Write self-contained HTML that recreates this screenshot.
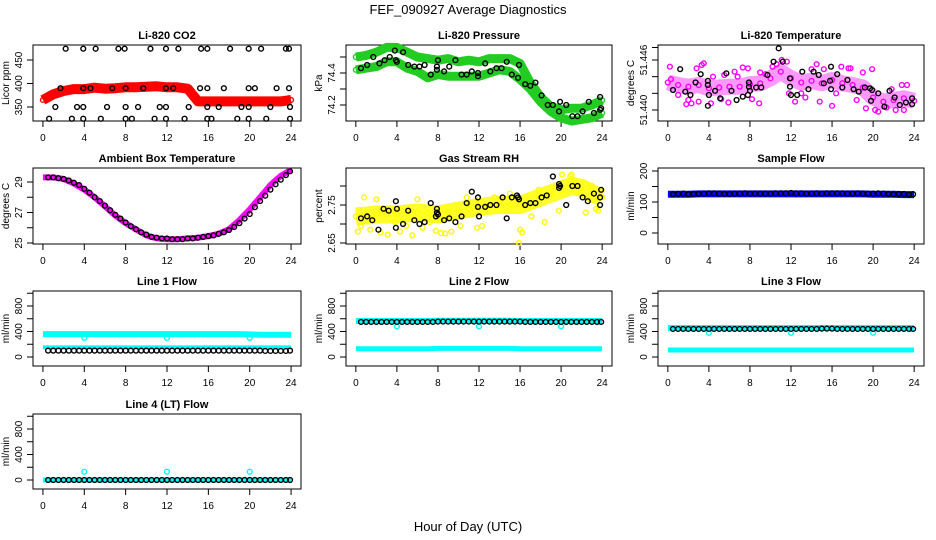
<!DOCTYPE html>
<html><head><meta charset="utf-8"><style>
html,body{margin:0;padding:0;background:#fff;}
svg{display:block;font-family:"Liberation Sans",sans-serif;}
</style></head><body>
<svg id="c" width="936" height="540" viewBox="0 0 936 540">
<text x="468" y="14" text-anchor="middle" font-size="13">FEF_090927  Average Diagnostics</text>
<text x="468" y="531" text-anchor="middle" font-size="13">Hour of Day (UTC)</text>
</svg>
<script>
// ---- data ----
const hours = [0,1,2,3,4,5,6,7,8,9,10,11,12,13,14,15,16,17,18,19,20,21,22,23,24];
const halfT = [0.5,1,1.5,2,2.5,3,3.5,4,4.5,5,5.5,6,6.5,7,7.5,8,8.5,9,9.5,10,10.5,11,11.5,12,12.5,13,13.5,14,14.5,15,15.5,16,16.5,17,17.5,18,18.5,19,19.5,20,20.5,21,21.5,22,22.5,23,23.5,23.9];
const xTicks = [0,4,8,12,16,20,24];

const co2Red = [365,377,384,388,388,391,389,390,392,392,393,394,392,392,389,362,362,362,362,362,362,362,362,362,365];
const co2BlackT = [2.2,3.9,5.1,7.3,7.9,10.4,11.9,13.1,15.3,15.9,18.1,19.9,21.1,23.5,23.8, 1.7,3.9,4.6,6.7,8,9.7,11.9,12.6,15.2,15.9,17.5,19.9,20.5,22.6,23.8, 1.2,3.3,3.9,6.2,8,9.2,11.3,11.9,14.1,15.9,17,19.2,19.9,22,23.9, 0.6,2.8,3.9,5.6,8,8.6,10.8,11.9,13.7,15.9,16.3,18.8,19.9,21.6,23.9];
const co2BlackV = [474,474,474,474,474,474,474,474,474,474,474,474,474,474,474, 390,390,390,390,390,390,390,390,390,390,390,390,390,390,390, 350,350,350,350,350,350,350,350,350,350,350,350,350,350,350, 325,325,325,325,325,325,325,325,325,325,325,325,325,325,325];

const presUpper = [74.50,74.51,74.53,74.56,74.56,74.53,74.50,74.49,74.48,74.49,74.47,74.48,74.47,74.49,74.49,74.49,74.46,74.34,74.25,74.19,74.17,74.18,74.18,74.20,74.23];
const presLower = [74.42,74.43,74.44,74.47,74.47,74.43,74.41,74.37,74.39,74.38,74.38,74.38,74.38,74.40,74.42,74.41,74.36,74.30,74.22,74.16,74.12,74.10,74.11,74.12,74.15];
const presBlackT = [0.5,1.1,1.7,2.3,2.8,3.3,3.9,4,3.8,4.6,5.1,5.7,6.2,6.7,7.3,7.9,7.9,8,8.6,9.1,9.7,10.3,10.8,11.3,11.9,11.9,12.6,13.1,13.7,14.2,14.7,15.2,15.8,15.9,16.5,17,17.5,18.1,18.7,19.2,19.8,19.9,20.5,21.1,21.6,22.1,22.7,23.2,23.8,23.8,23.9];
const presBlackV = [74.43,74.45,74.50,74.46,74.48,74.50,74.48,74.47,74.54,74.53,74.45,74.44,74.44,74.45,74.39,74.42,74.44,74.48,74.41,74.44,74.48,74.39,74.39,74.41,74.38,74.40,74.46,74.41,74.43,74.43,74.47,74.39,74.37,74.45,74.33,74.32,74.34,74.26,74.20,74.20,74.16,74.22,74.20,74.13,74.13,74.16,74.22,74.15,74.17,74.25,74.18];

const tempMag = [51.4433,51.4430,51.4428,51.4430,51.4426,51.4427,51.4428,51.4428,51.4431,51.4432,51.4438,51.4446,51.4438,51.4433,51.4435,51.4432,51.4436,51.4432,51.4430,51.4427,51.4415,51.4410,51.4412,51.4414,51.4411];
const tempMagOutT = [0.2,0.3,1.8,2.3,2.8,3.3,3.5,4.4,5.2,5.9,6.5,7.3,8.2,8.9,9.5,10.6,11.1,11.6,12.4,13.4,14.0,14.5,15.2,16.0,16.9,17.6,18.4,19.3,19.9,20.5,21.3,22.2,22.8,23.3,1.0,2.0,3.0,4.2,5.5,6.8,7.8,9.0,10.2,11.8,13.0,14.8,16.4,17.8,19.0,20.2,21.8,23.0];
const tempMagOutV = [51.4452,51.4437,51.4407,51.4408,51.4450,51.4454,51.4456,51.4440,51.4413,51.4409,51.4446,51.4451,51.4413,51.4408,51.4443,51.4455,51.4460,51.4458,51.4410,51.4415,51.4449,51.4455,51.4449,51.4405,51.4452,51.4450,51.4412,51.4402,51.4449,51.4398,51.4403,51.4400,51.4430,51.4430,51.4418,51.4412,51.4410,51.4408,51.4442,51.4440,51.4450,51.4445,51.4452,51.4420,51.4420,51.4410,51.4420,51.4450,51.4445,51.4400,51.4425,51.4400];
const tempBlackT = [0.5,1.2,1.7,2.2,2.7,3.2,3.9,3.9,3.9,4,4.6,5.1,5.7,6.2,6.7,7.3,7.8,7.9,7.9,8,8.6,9.1,9.7,10.3,10.8,11.2,11.9,11.9,12,12.6,13.1,13.7,14.2,14.7,15.2,15.8,15.9,15.9,16.5,17,17.5,18.1,18.6,19.2,19.7,19.8,19.9,20.5,21.1,21.6,22.1,22.6,23.2,23.8,23.8];
const tempBlackV = [51.4424,51.4449,51.4422,51.4418,51.4433,51.4443,51.4435,51.4430,51.4405,51.4418,51.4423,51.4414,51.4444,51.4423,51.4412,51.4416,51.4418,51.4428,51.4433,51.4423,51.4427,51.4427,51.4442,51.4458,51.4474,51.4458,51.4438,51.4428,51.4418,51.4418,51.4446,51.4425,51.4446,51.4442,51.4432,51.4435,51.4452,51.4425,51.4443,51.4427,51.4436,51.4425,51.4422,51.4427,51.4426,51.4411,51.4424,51.4420,51.4404,51.4423,51.4415,51.4406,51.4409,51.4407,51.4414];

const ambPink = [29.3,29.3,29.2,28.9,28.5,28.0,27.4,26.8,26.3,25.9,25.5,25.3,25.25,25.25,25.3,25.35,25.45,25.6,25.9,26.5,27.2,28.0,28.8,29.4,29.8];
const ambBlack = [29.3,29.3,29.25,29.2,29.1,28.95,28.8,28.55,28.3,28.0,27.75,27.45,27.15,26.85,26.6,26.35,26.1,25.9,25.7,25.55,25.4,25.35,25.3,25.3,25.25,25.25,25.25,25.3,25.3,25.35,25.4,25.45,25.5,25.6,25.7,25.85,26.05,26.3,26.6,26.9,27.35,27.75,28.1,28.5,28.85,29.15,29.45,29.7];

const rhYellow = [2.720,2.722,2.725,2.725,2.725,2.728,2.730,2.728,2.725,2.730,2.735,2.740,2.745,2.748,2.750,2.750,2.750,2.760,2.770,2.780,2.790,2.800,2.795,2.780,2.770];
const rhOutT = [0.2,0.5,1.4,2.4,3.1,3.8,4.3,4.9,5.5,6.5,7.2,7.8,8.3,8.7,9.3,10.2,11.8,12.3,14.0,15.0,15.9,16.0,16.2,17.1,18.4,19.8,20.1,20.9,21.3,22.4,23.4,23.6,0.8,2.0,6.0,10.8,13.5,17.8,21.0,23.0];
const rhOutV = [2.680,2.695,2.685,2.677,2.672,2.705,2.680,2.695,2.670,2.690,2.705,2.682,2.676,2.675,2.680,2.695,2.690,2.695,2.760,2.780,2.650,2.685,2.678,2.720,2.705,2.735,2.830,2.825,2.815,2.730,2.740,2.735,2.770,2.765,2.765,2.770,2.770,2.790,2.830,2.800];
const rhBlackT = [0.5,1.1,1.6,2.2,2.7,3.2,3.9,3.9,4,4.6,5.1,5.7,6.2,6.7,7.3,7.8,7.9,7.9,8,8.6,9.1,9.7,10.3,10.8,11.3,11.9,11.9,12,12.6,13.1,13.7,14.3,14.7,15.2,15.7,15.8,15.9,16.5,17,17.5,18.1,18.6,19.2,19.8,19.8,19.9,20.5,21.1,21.6,22.1,22.6,23.2,23.8,23.8,23.9];
const rhBlackV = [2.715,2.72,2.71,2.685,2.74,2.735,2.76,2.69,2.74,2.70,2.735,2.71,2.70,2.705,2.755,2.72,2.73,2.74,2.725,2.71,2.715,2.705,2.72,2.755,2.785,2.77,2.745,2.72,2.745,2.75,2.75,2.77,2.715,2.77,2.775,2.77,2.765,2.75,2.755,2.755,2.77,2.775,2.825,2.805,2.795,2.80,2.75,2.80,2.80,2.77,2.76,2.78,2.75,2.77,2.79];

const sampleBlue = [125,125,125,126,126,126,126,126,126,126,126,126,126,126,126,126,126,126,126,126,125,125,125,124,124];
const sampleBlack = [125,126,127,125,126,126,127,128,128,127,126,126,127,127,128,127,127,127,127,127,128,128,128,129,128,128,127,127,128,127,128,128,128,128,127,127,128,127,127,127,128,127,126,125,126,126,124,125];

const l1Upper = [360,360,360,360,360,360,360,360,360,360,360,360,360,360,360,360,360,360,360,360,355,350,350,350,350];
const l1Lower = [150,150,150,150,150,150,150,150,150,150,150,150,150,150,150,150,150,150,150,150,150,150,150,150,150];
const l1Black = [100,100,100,100,100,100,100,100,100,100,100,100,100,100,100,100,100,100,100,100,100,100,100,100,100,100,100,100,100,100,100,100,100,100,100,100,100,100,100,100,100,100,95,95,95,95,95,100];
const l2Upper = [565,565,565,565,565,565,565,565,570,570,570,570,570,570,570,570,565,565,565,565,565,565,565,565,565];
const l2Lower = [130,130,130,130,130,130,130,130,135,135,135,135,135,135,135,135,130,130,130,130,130,130,130,130,130];
const l2Black = [550,550,550,550,550,550,550,550,550,550,550,550,550,550,550,555,555,555,555,555,555,555,555,555,555,555,555,555,555,555,555,555,550,550,550,550,550,550,550,550,550,550,550,550,550,550,550,550];
const l3Upper = [455,455,455,455,455,455,455,455,455,455,455,455,455,455,455,455,455,455,455,455,455,455,455,455,455];
const l3Lower = [110,110,110,110,110,110,110,110,110,110,110,110,110,110,110,110,110,110,110,110,110,110,110,110,110];
const l3Black = [440,440,440,440,440,440,440,440,440,440,440,440,440,440,440,440,440,440,440,440,440,440,440,440,440,440,440,440,440,445,445,445,440,440,440,440,440,440,440,440,440,440,440,440,440,440,440,440];
const l4Cyan = [0,0,0,0,0,0,0,0,0,0,0,0,0,0,0,0,0,0,0,0,0,0,0,0,0];
const l4Black = [0,0,0,0,0,0,0,0,0,0,0,0,0,0,0,0,0,0,0,0,0,0,0,0,0,0,0,0,0,0,0,0,0,0,0,0,0,0,0,0,0,0,0,0,0,0,0,0];
const dipT = [4,12,20];
const l1Dip = [300,300,300];
const l2Dip = [480,480,480];
const l3Dip = [380,380,380];
const l4Spike = [130,130,130];

// ---- layout ----
const NS = "http://www.w3.org/2000/svg";
const svg = document.getElementById('c');
const colL = [33,346,658], colR = [301,612,924];
const rowT = [45,168,291,414], rowB = [121,244,366,489];
function mk(tag, attrs, parent){ const e=document.createElementNS(NS,tag); for(const k in attrs) e.setAttribute(k,attrs[k]); (parent||svg).appendChild(e); return e; }

function panel(cfg){
  const g = mk('g',{});
  
  
  const L=colL[cfg.col], R=colR[cfg.col], T=rowT[cfg.row], B=rowB[cfg.row];
  const xs = t => L + (t+0.96)/25.92*(R-L);
  const ys = v => cfg.p1 + (v-cfg.v1)*(cfg.p2-cfg.p1)/(cfg.v2-cfg.v1);
  const ti = mk('text',{x:(L+R)/2,y:T-6,'text-anchor':'middle','font-size':11,'font-weight':'bold'},g);
  ti.textContent = cfg.title;
  
  
  const box = mk('rect',{x:L,y:T,width:R-L,height:B-T,fill:'none',stroke:'#000','stroke-width':1},g);
  
  
  const xa = mk('g',{},g);
  
  
  mk('line',{x1:xs(xTicks[0]),x2:xs(xTicks[xTicks.length-1]),y1:B,y2:B,stroke:'#000'},xa);
  xTicks.forEach(t=>{
    mk('line',{x1:xs(t),x2:xs(t),y1:B,y2:B+6,stroke:'#000'},xa);
    if(cfg.xlab){ const tx=mk('text',{x:xs(t),y:B+20,'text-anchor':'middle','font-size':10},xa); tx.textContent=t;
      
       }
  });
  const ya = mk('g',{},g);
  
  
  mk('line',{x1:L,x2:L,y1:ys(cfg.yt[0]),y2:ys(cfg.yt[cfg.yt.length-1]),stroke:'#000'},ya);
  cfg.yt.forEach(v=>mk('line',{x1:L-6,x2:L,y1:ys(v),y2:ys(v),stroke:'#000'},ya));
  cfg.yl.forEach((v,i)=>{ const y=ys(v), x=L-11;
    const tx=mk('text',{x:x,y:y,'text-anchor':'middle','font-size':10,transform:`rotate(-90 ${x} ${y})`},ya);
    tx.textContent = cfg.ylt ? cfg.ylt[i] : v;
    
    
  });
  const cy=(T+B)/2, ax=L-24;
  const yt=mk('text',{x:ax,y:cy,'text-anchor':'middle','font-size':10,transform:`rotate(-90 ${ax} ${cy})`},g);
  yt.textContent = cfg.ytitle;
  
  
  const dg = mk('g',{},g);
  
  
  cfg.series.forEach(s=>{
    if(s.band){
      const pts = s.t.map((t,i)=>xs(t).toFixed(1)+','+ys(s.v[i]).toFixed(1)).join(' ');
      const pl = mk('polyline',{points:pts,fill:'none',stroke:s.color,'stroke-width':s.band,'stroke-linejoin':'round','stroke-linecap':'butt',opacity:s.op||1},dg);
      
      
    }
    if(s.pts!==false){
      s.t.forEach((t,i)=>{
        const c = mk('circle',{cx:xs(t),cy:ys(s.v[i]),r:2.4,fill:'none',stroke:s.color,'stroke-width':1.4},dg);
        
        
      });
    }
  });
}

const flowT=[0,200,400,600,800,1000], flowL=[0,400,800];
panel({name:'co2-panel',col:0,row:0,title:'Li-820 CO2',ytitle:'Licor ppm',v1:350,p1:107,v2:450,p2:60,yt:[350,400,450],yl:[350,400,450],xlab:true,
  series:[{name:'co2-red',t:hours,v:co2Red,color:'#f00',band:10},{name:'co2-black',t:co2BlackT,v:co2BlackV,color:'#000'}]});
panel({name:'pressure-panel',col:1,row:0,title:'Li-820 Pressure',ytitle:'kPa',v1:74.4,p1:73,v2:74.2,p2:105,yt:[74.2,74.3,74.4,74.5],yl:[74.2,74.4],xlab:true,
  series:[{name:'pressure-upper',t:hours,v:presUpper,color:'#2c2',band:9},{name:'pressure-lower',t:hours,v:presLower,color:'#2c2',band:9},{name:'pressure-black',t:presBlackT,v:presBlackV,color:'#000'}]});
panel({name:'temperature-panel',col:2,row:0,title:'Li-820 Temperature',ytitle:'degrees C',v1:51.440,p1:110,v2:51.446,p2:60,yt:[51.440,51.442,51.444,51.446,51.4475],yl:[51.440,51.446],ylt:['51.440','51.446'],xlab:true,
  series:[{name:'temperature-magenta',t:hours,v:tempMag,color:'#f0f',band:16,op:0.4},{name:'temperature-magenta-scatter',t:tempMagOutT,v:tempMagOutV,color:'#f0f'},{name:'temperature-black',t:tempBlackT,v:tempBlackV,color:'#000'}]});
panel({name:'ambient-panel',col:0,row:1,title:'Ambient Box Temperature',ytitle:'degrees C',v1:25,p1:243,v2:29,p2:182,yt:[25,26,27,28,29],yl:[25,27,29],xlab:true,
  series:[{name:'ambient-magenta',t:hours,v:ambPink,color:'#f0f',band:6,pts:false},{name:'ambient-black',t:halfT,v:ambBlack,color:'#000'}]});
panel({name:'rh-panel',col:1,row:1,title:'Gas Stream RH',ytitle:'percent',v1:2.65,p1:243,v2:2.75,p2:205,yt:[2.65,2.70,2.75,2.80],yl:[2.65,2.75],xlab:true,
  series:[{name:'rh-yellow',t:hours,v:rhYellow,color:'#ff0',band:18,op:0.85},{name:'rh-yellow-scatter',t:rhOutT,v:rhOutV,color:'#ff0'},{name:'rh-black',t:rhBlackT,v:rhBlackV,color:'#000'}]});
panel({name:'sample-flow-panel',col:2,row:1,title:'Sample Flow',ytitle:'ml/min',v1:0,p1:233,v2:200,p2:171,yt:[0,50,100,150,200],yl:[0,100,200],xlab:true,
  series:[{name:'sample-blue',t:hours,v:sampleBlue,color:'#00f',band:7,pts:false},{name:'sample-black',t:halfT,v:sampleBlack,color:'#000'}]});
panel({name:'line1-panel',col:0,row:2,title:'Line 1 Flow',ytitle:'ml/min',v1:0,p1:357,v2:800,p2:306,yt:flowT,yl:flowL,xlab:true,
  series:[{name:'line1-cyan-upper',t:hours,v:l1Upper,color:'#0ff',band:6,pts:false},{name:'line1-cyan-lower',t:hours,v:l1Lower,color:'#0ff',band:4,pts:false},{name:'line1-dip',t:dipT,v:l1Dip,color:'#0ff'},{name:'line1-black',t:halfT,v:l1Black,color:'#000'}]});
panel({name:'line2-panel',col:1,row:2,title:'Line 2 Flow',ytitle:'ml/min',v1:0,p1:357,v2:800,p2:306,yt:flowT,yl:flowL,xlab:true,
  series:[{name:'line2-cyan-upper',t:hours,v:l2Upper,color:'#0ff',band:6,pts:false},{name:'line2-cyan-lower',t:hours,v:l2Lower,color:'#0ff',band:5,pts:false},{name:'line2-dip',t:dipT,v:l2Dip,color:'#0ff'},{name:'line2-black',t:halfT,v:l2Black,color:'#000'}]});
panel({name:'line3-panel',col:2,row:2,title:'Line 3 Flow',ytitle:'ml/min',v1:0,p1:357,v2:800,p2:306,yt:flowT,yl:flowL,xlab:true,
  series:[{name:'line3-cyan-upper',t:hours,v:l3Upper,color:'#0ff',band:6,pts:false},{name:'line3-cyan-lower',t:hours,v:l3Lower,color:'#0ff',band:5,pts:false},{name:'line3-dip',t:dipT,v:l3Dip,color:'#0ff'},{name:'line3-black',t:halfT,v:l3Black,color:'#000'}]});
panel({name:'line4-panel',col:0,row:3,title:'Line 4 (LT) Flow',ytitle:'ml/min',v1:0,p1:480,v2:800,p2:429,yt:flowT,yl:flowL,xlab:true,
  series:[{name:'line4-cyan',t:hours,v:l4Cyan,color:'#0ff',band:5,pts:false},{name:'line4-spike',t:dipT,v:l4Spike,color:'#0ff'},{name:'line4-black',t:halfT,v:l4Black,color:'#000'}]});
</script>
</body></html>
